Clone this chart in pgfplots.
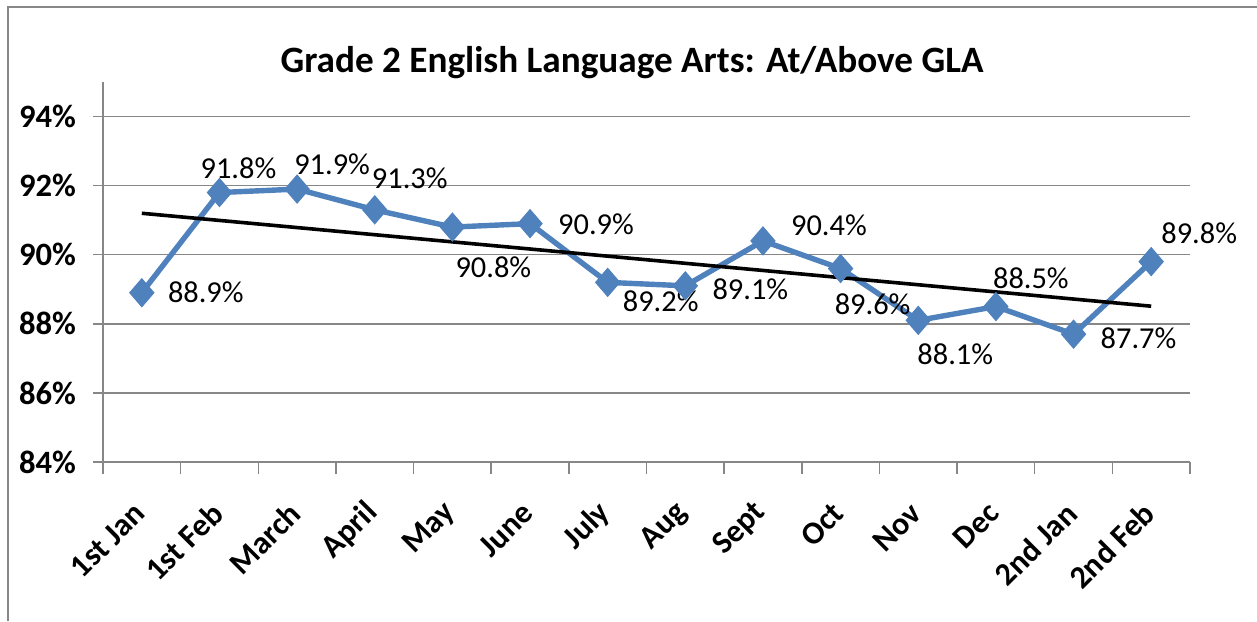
\documentclass[border=0pt]{standalone}
\usepackage{fontspec}
\setmainfont{Carlito}
\usepackage{pgfplots}
\pgfplotsset{compat=1.18}
\usepackage{pgfplotstable}

\definecolor{lineblue}{HTML}{4F81BD}
\definecolor{gridgray}{HTML}{878787}

\pgfplotstableread{
x y dx dy
0 88.9 32 0
1 91.8 9.5 12
2 91.9 17.5 12.5
3 91.3 17.5 16
4 90.8 20.5 -20
5 90.9 33 -0.5
6 89.2 26.5 -9.5
7 89.1 32.5 -1.5
8 90.4 33 8
9 89.6 16 -18
10 88.1 18.5 -17
11 88.5 17.5 14
12 87.7 32.5 -2
13 89.8 24 14
}\datatable

\begin{document}
\begin{tikzpicture}
\useasboundingbox (-51.5pt,-79.5pt) rectangle (577pt,231pt);
\draw[gridgray, line width=1pt] (-47.5pt,-79.5pt) -- (-47.5pt,227.5pt) -- (577pt,227.5pt);
\begin{axis}[
  scale only axis, width=543.5pt, height=190pt,
  at={(0,0)}, anchor=south west,
  xmin=-0.5, xmax=13.5, ymin=84, ymax=95,
  axis x line*=bottom, axis y line*=left,
  axis line style={gridgray, line width=0.75pt, -},
  /pgf/number format/assume math mode=true,
  xtick={0,...,13},
  xticklabels={1st Jan, 1st Feb, March, April, May, June, July, Aug, Sept, Oct, Nov, Dec, 2nd Jan, 2nd Feb},
  major x tick style={draw=none},
  minor xtick={-0.5,0.5,...,13.5},
  minor tick length=6pt,
  tick style={gridgray, line width=0.75pt},
  tick align=outside,
  major tick length=5pt,
  xticklabel style={font=\fontsize{16}{19}\selectfont\bfseries, rotate=45, anchor=east, xshift=2pt},
  xticklabel shift=17pt,
  ytick={84,86,...,94},
  yticklabels={84\%,86\%,88\%,90\%,92\%,94\%},
  yticklabel style={font=\fontsize{16.3}{19}\selectfont\bfseries, anchor=east},
  yticklabel shift=5pt,
  ymajorgrids,
  grid style={gridgray, line width=0.75pt},
  clip=false,
]
\addplot[lineblue, line width=2.7pt,
  mark=diamond*, mark size=7pt,
  mark options={solid, fill=lineblue, draw=lineblue, line width=0.5pt, xscale=1.15},
  nodes near coords={\pgfmathprintnumber[fixed,fixed zerofill,precision=1]{\pgfplotspointmeta}\%},
  point meta=y,
  visualization depends on={\thisrow{dx} \as \dx},
  visualization depends on={\thisrow{dy} \as \dy},
  every node near coord/.append style={anchor=center, xshift=\dx pt, yshift=\dy pt,
     font=\fontsize{15.2}{18}\selectfont, text=black, inner sep=0pt},
] table[x=x, y=y] {\datatable};
\addplot[black, line width=1.8pt] coordinates {(0,91.2) (13,88.51)};
\end{axis}
\node[font=\fontsize{18.6}{22}\selectfont\bfseries, anchor=base] at (264.5pt,194.5pt) {Grade 2 English Language Arts: At/Above GLA};
\end{tikzpicture}
\end{document}
